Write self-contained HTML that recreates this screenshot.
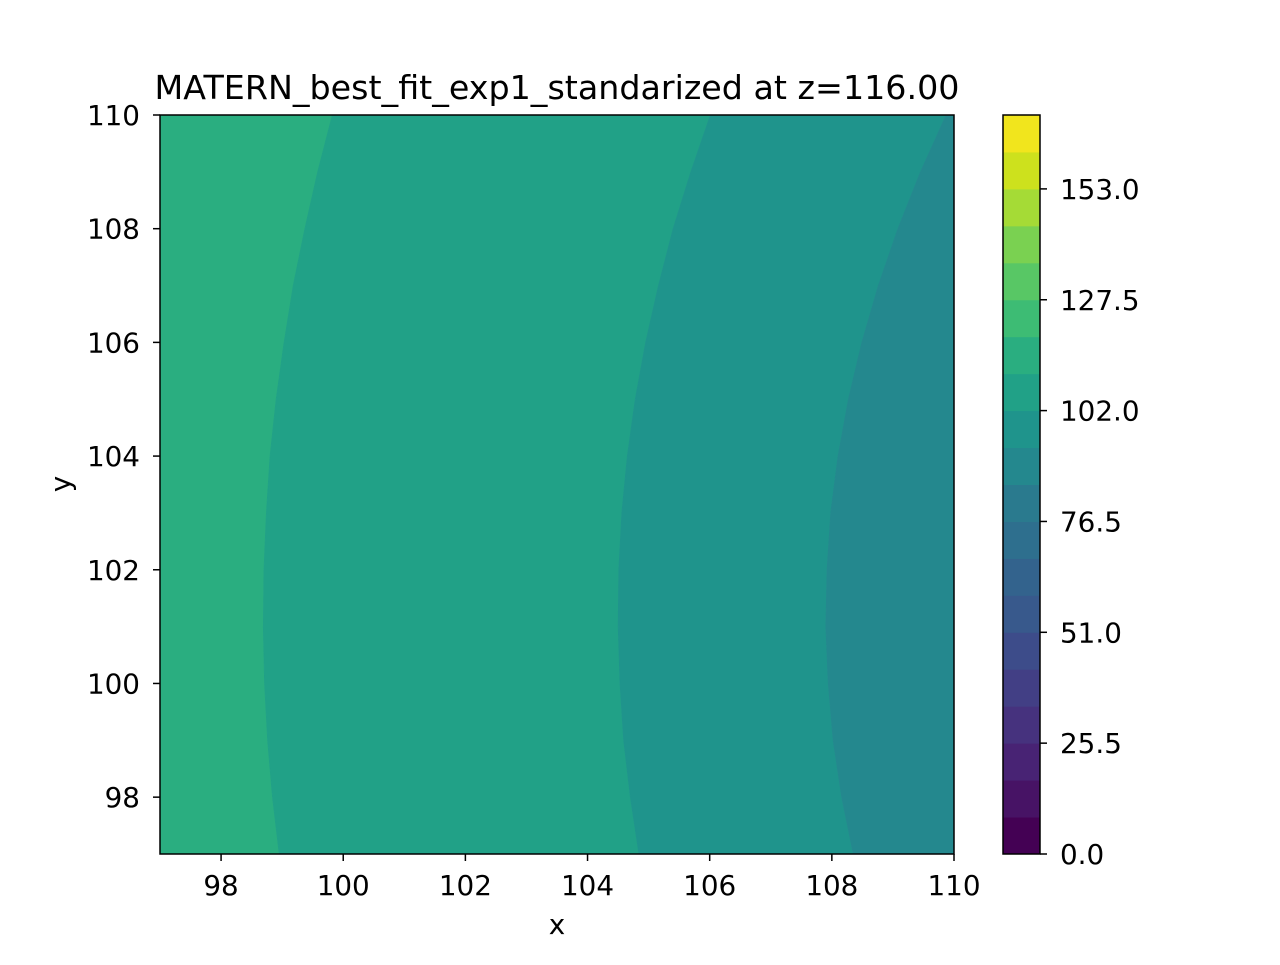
<!DOCTYPE html>
<html><head><meta charset="utf-8"><style>
body{margin:0;background:#fff;}
svg text{font-family:"DejaVu Sans","Liberation Sans",sans-serif;fill:#000;}
</style></head><body>
<svg width="1280" height="960" viewBox="0 0 1280 960" xmlns="http://www.w3.org/2000/svg">
<rect width="1280" height="960" fill="#fff"/>
<g id="plot"></g>
<g id="axes"></g>
<g id="cbar"></g>
<text x="557" y="99" font-size="33.3" text-anchor="middle">MATERN_best_fit_exp1_standarized at z=116.00</text>
<text x="557" y="934" font-size="27.8" text-anchor="middle">x</text>
<text x="70" y="484" font-size="27.8" text-anchor="middle" transform="rotate(-90 70 484)">y</text>
</svg>
<script>
const ySamples=[97,98,99,100,101,102,103,104,105,106,107,108,109,110];
const boundary1=[98.95,98.84,98.76,98.71,98.69,98.70,98.74,98.80,98.90,99.03,99.18,99.37,99.58,99.82];
const boundary2=[104.84,104.70,104.59,104.53,104.50,104.51,104.56,104.65,104.78,104.95,105.16,105.40,105.69,106.01];
const boundary3=[108.35,108.16,108.02,107.94,107.90,107.92,107.98,108.10,108.27,108.49,108.76,109.08,109.45,109.87];
const regionColors=["#2aae80","#21a187","#1f948c","#24888e"];
const xTicks=[98,100,102,104,106,108,110];
const yTicks=[98,100,102,104,106,108,110];
const cbarColors=["#440154","#471365","#482374","#46327e","#423f85","#3d4c8a","#38598c","#33638d","#2e6f8e","#2a7a8e","#24888e","#1f948c","#21a187","#2aae80","#3dbc74","#58c765","#7ad151","#a5db36","#cde11d","#f1e51d"];
const cbarTicks=[0,25.5,51,76.5,102,127.5,153];
const cbarLabels=["0.0","25.5","51.0","76.5","102.0","127.5","153.0"];
const cbarLevels=[0,8.5,17,25.5,34,42.5,51,59.5,68,76.5,85,93.5,102,110.5,119,127.5,136,144.5,153,161.5,170];
const NS="http://www.w3.org/2000/svg";
const X0=160,X1=954,Y0=115,Y1=854;
const sx=v=>X0+(v-97)/(110-97)*(X1-X0);
const sy=v=>Y1-(v-97)/(110-97)*(Y1-Y0);
function el(tag,attrs,parent){const e=document.createElementNS(NS,tag);for(const k in attrs)e.setAttribute(k,attrs[k]);parent.appendChild(e);return e;}
const plot=document.getElementById('plot');
const bounds=[null,boundary1,boundary2,boundary3,null];
for(let r=0;r<4;r++){
  const left=bounds[r]?ySamples.map((y,i)=>[sx(bounds[r][i]),sy(y)]):ySamples.map(y=>[X0,sy(y)]);
  const right=bounds[r+1]?ySamples.map((y,i)=>[sx(bounds[r+1][i]),sy(y)]):ySamples.map(y=>[X1,sy(y)]);
  const pts=left.concat(right.slice().reverse());
  const p=el('polygon',{points:pts.map(p=>p.join(',')).join(' '),fill:regionColors[r],stroke:regionColors[r],'stroke-width':0.5},plot);
  
  
}
const axes=document.getElementById('axes');
const fr=el('rect',{x:X0,y:Y0,width:X1-X0,height:Y1-Y0,fill:'none',stroke:'#000','stroke-width':1.5},axes);


xTicks.forEach(t=>{
  const x=sx(t);
  el('line',{x1:x,x2:x,y1:Y1,y2:Y1+7,stroke:'#000','stroke-width':1.5},axes);
  const tx=el('text',{x:x,y:Y1+41,'font-size':27.8,'text-anchor':'middle'},axes);tx.textContent=t;
  
  
});
yTicks.forEach(t=>{
  const y=sy(t);
  el('line',{x1:X0-7,x2:X0,y1:y,y2:y,stroke:'#000','stroke-width':1.5},axes);
  const tx=el('text',{x:X0-20,y:y+10,'font-size':27.8,'text-anchor':'end'},axes);tx.textContent=t;
  
  
});
const cb=document.getElementById('cbar');
const CX0=1003,CX1=1040,cmin=cbarLevels[0],cmax=cbarLevels[cbarLevels.length-1];
const cy=v=>Y1-(v-cmin)/(cmax-cmin)*(Y1-Y0);
for(let i=0;i<cbarLevels.length-1;i++){
  const r=el('rect',{x:CX0,y:cy(cbarLevels[i+1]),width:CX1-CX0,height:cy(cbarLevels[i])-cy(cbarLevels[i+1])+0.5,fill:cbarColors[i]},cb);
  
  
}
el('rect',{x:CX0,y:Y0,width:CX1-CX0,height:Y1-Y0,fill:'none',stroke:'#000','stroke-width':1.5},cb);
cbarTicks.forEach((t,i)=>{
  const y=cy(t);
  el('line',{x1:CX1,x2:CX1+7,y1:y,y2:y,stroke:'#000','stroke-width':1.5},cb);
  const tx=el('text',{x:CX1+20,y:y+10,'font-size':27.8},cb);tx.textContent=cbarLabels[i];
  
  
});
</script>
</body></html>
